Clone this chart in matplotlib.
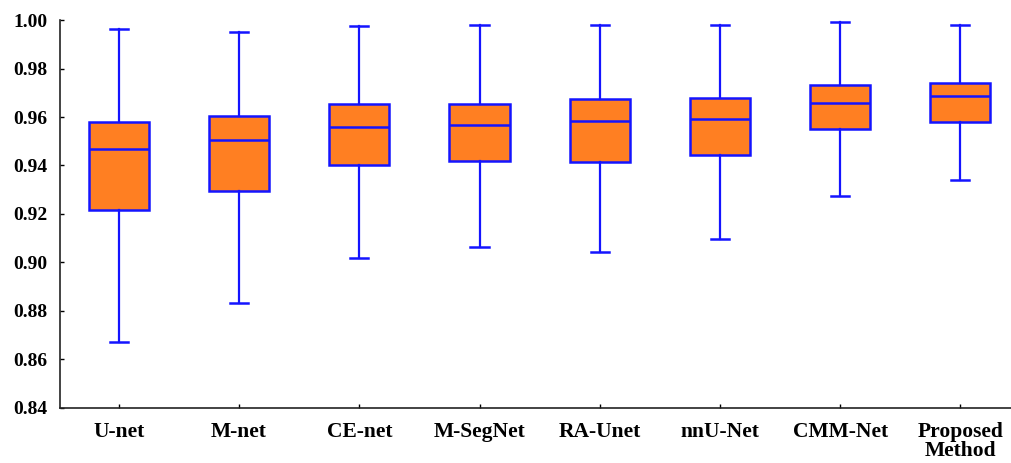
import matplotlib.pyplot as plt

# ── Data ───────────────────────────────────────────────────────────
methods = ['U-net', 'M-net', 'CE-net', 'M-SegNet', 'RA-Unet', 'nnU-Net',
           'CMM-Net', 'Proposed\nMethod']
whis_low  = [0.8674, 0.8834, 0.9019, 0.9065, 0.9044, 0.9095, 0.9273, 0.9339]
q1        = [0.9216, 0.9296, 0.9400, 0.9420, 0.9416, 0.9445, 0.9551, 0.9580]
medians   = [0.9469, 0.9504, 0.9558, 0.9565, 0.9584, 0.9593, 0.9658, 0.9685]
q3        = [0.9578, 0.9604, 0.9654, 0.9654, 0.9673, 0.9680, 0.9732, 0.9742]
whis_high = [0.9963, 0.9949, 0.9974, 0.9979, 0.9979, 0.9978, 0.9991, 0.9978]
yticks    = [0.84, 0.86, 0.88, 0.90, 0.92, 0.94, 0.96, 0.98, 1.00]

plt.rcParams['font.family'] = ['Liberation Serif', 'DejaVu Serif']
plt.rcParams['font.weight'] = 'bold'

stats = []
for i in range(len(methods)):
    stats.append(dict(label=methods[i], whislo=whis_low[i], q1=q1[i],
                      med=medians[i], q3=q3[i], whishi=whis_high[i],
                      fliers=[]))

blue = '#1414ff'
fig = plt.figure(figsize=(10.12, 4.63), dpi=100)
ax = fig.add_axes([0.0593, 0.1188, 0.9407, 0.838])

ax.bxp(stats, positions=range(1, len(methods) + 1), widths=0.5,
       capwidths=0.15, patch_artist=True, showfliers=False,
       boxprops=dict(facecolor='#ff7f22', edgecolor=blue, linewidth=1.8),
       medianprops=dict(color=blue, linewidth=1.8),
       whiskerprops=dict(color=blue, linewidth=1.6),
       capprops=dict(color=blue, linewidth=1.8))

ax.set_xlim(0.51, 8.43)
ax.set_ylim(0.84, 1.00)
ax.set_yticks(yticks)
ax.set_yticklabels([f'{t:.2f}' for t in yticks])
ax.set_xticks(range(1, len(methods) + 1))
ax.set_xticklabels(methods, fontsize=15.5, fontweight='bold', va='top',
                   linespacing=0.95)

ax.spines['top'].set_visible(False)
ax.spines['right'].set_visible(False)
for s in ['left', 'bottom']:
    ax.spines[s].set_linewidth(1.2)
    ax.spines[s].set_color('#222222')
ax.tick_params(axis='y', direction='in', length=3, width=1,
               labelsize=14, pad=9)
ax.tick_params(axis='x', direction='in', length=3, width=1, pad=10)

fig.savefig('out.png', dpi=100)
